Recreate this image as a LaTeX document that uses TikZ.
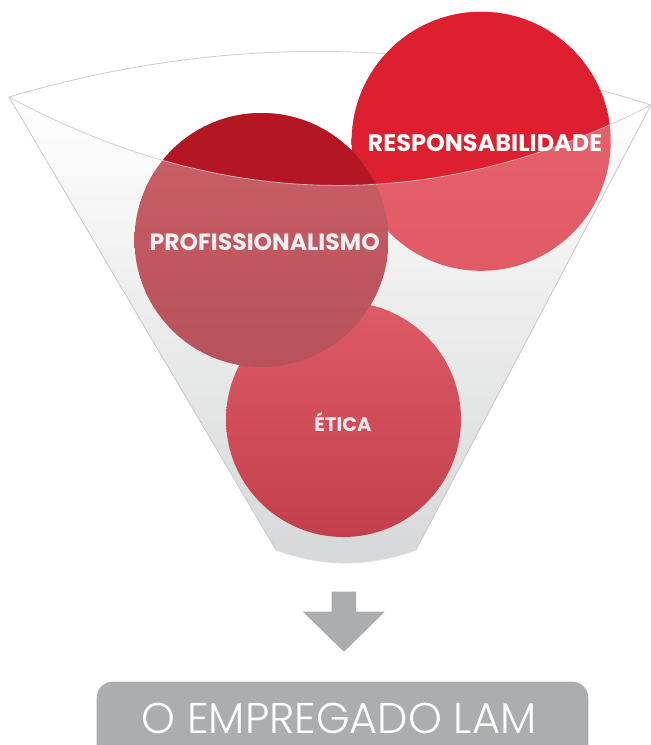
\documentclass[tikz,border=0pt]{standalone}
\usepackage{fontspec}
\newfontfamily\labfont{Poppins}[UprightFont=* Bold]
\newfontfamily\boxfont{Poppins}[UprightFont=* Light]
\definecolor{respTop}{HTML}{DE1F2F}
\definecolor{respLowA}{HTML}{E8646E}
\definecolor{respLowB}{HTML}{E15B67}
\definecolor{profTop}{HTML}{B41623}
\definecolor{profLowA}{HTML}{CB6068}
\definecolor{profLowB}{HTML}{B8515A}
\definecolor{eticaA}{HTML}{DE5A66}
\definecolor{eticaB}{HTML}{C33F4B}
\definecolor{rimgray}{HTML}{C9C9C9}
\definecolor{funnelMid}{HTML}{F2F2F3}
\definecolor{funnelBot}{HTML}{D6D7D8}
\definecolor{arrowgray}{HTML}{ACADAF}
\tikzset{
  rimline/.style={draw=rimgray, line width=0.8pt},
  lab/.style={anchor=base, inner sep=0pt, font=\labfont},
  outbox/.style={fill=arrowgray, rounded corners=16pt, minimum width=491.6pt, minimum height=120pt, inner sep=0pt},
}
\begin{document}
\begin{tikzpicture}[x=1pt,y=-1pt]
\useasboundingbox (0,0) rectangle (651,745);
\coordinate (rimL) at (9,97);
\coordinate (rimR) at (651,105);
\coordinate (botL) at (276,550);
\coordinate (botR) at (416,550);
\coordinate (resp) at (481.2,141.3);
\coordinate (prof) at (261.5,240);
\coordinate (etica) at (343.5,419.5);
% funnel body
\shade[top color=white, middle color=funnelMid, bottom color=funnelBot]
  (rimL) .. controls (223,212) and (437,215) .. (rimR) -- (botR)
  .. controls (369.3,567.3) and (322.7,567.3) .. (botL) -- cycle;
% back rim line
\draw[rimline] (rimL) .. controls (223,33.7) and (437,36.3) .. (rimR);
% circles, lower tones
\shade[top color=respLowA, bottom color=respLowB] (resp) circle (129.5);
\shade[top color=eticaA, bottom color=eticaB] (etica) circle (117.5);
\shade[top color=profLowA, bottom color=profLowB] (prof) circle (127);
% circles, parts above the front rim
\begin{scope}
  \clip (rimL) .. controls (223,212) and (437,215) .. (rimR) -- (700,105) -- (700,-60) -- (-60,-60) -- (-60,97) -- cycle;
  \fill[respTop] (resp) circle (129.5);
  \fill[profTop] (prof) circle (127);
\end{scope}
% front rim and sides
\draw[rimline, draw opacity=0.85] (rimL) .. controls (223,212) and (437,215) .. (rimR);
\draw[rimline] (rimL) -- (botL);
\draw[rimline] (rimR) -- (botR);
\draw[draw=funnelBot!80!white, line width=0.8pt] (botL) .. controls (322.7,567.3) and (369.3,567.3) .. (botR);
% labels
\node[lab, text=white, font=\labfont\fontsize{24}{25}\selectfont] (tResp) at (485,151.7) {RESPONSABILIDADE};
\node[lab, text=white!94!black, font=\labfont\fontsize{23.5}{24}\selectfont] (tProf) at (264.7,250) {PROFISSIONALISMO};
\node[lab, text=white!92!black, font=\labfont\fontsize{19.5}{20}\selectfont] (tEtica) at (343,431) {ÉTICA};
% arrow
\fill[arrowgray] (331.7,591.7) -- (356,591.7) -- (356,611.7) -- (384.7,611.7) -- (344,651.7)
  -- (302.7,611.7) -- (331.7,611.7) -- cycle;
% output box
\node[outbox] (empl) at (342.5,741.7) {};
\node[anchor=base, inner sep=0pt, text depth=0pt, text=white, font=\boxfont\fontsize{43}{44}\selectfont] (tEmpl) at (339,733.3) {O EMPREGADO LAM};
\end{tikzpicture}
\end{document}
